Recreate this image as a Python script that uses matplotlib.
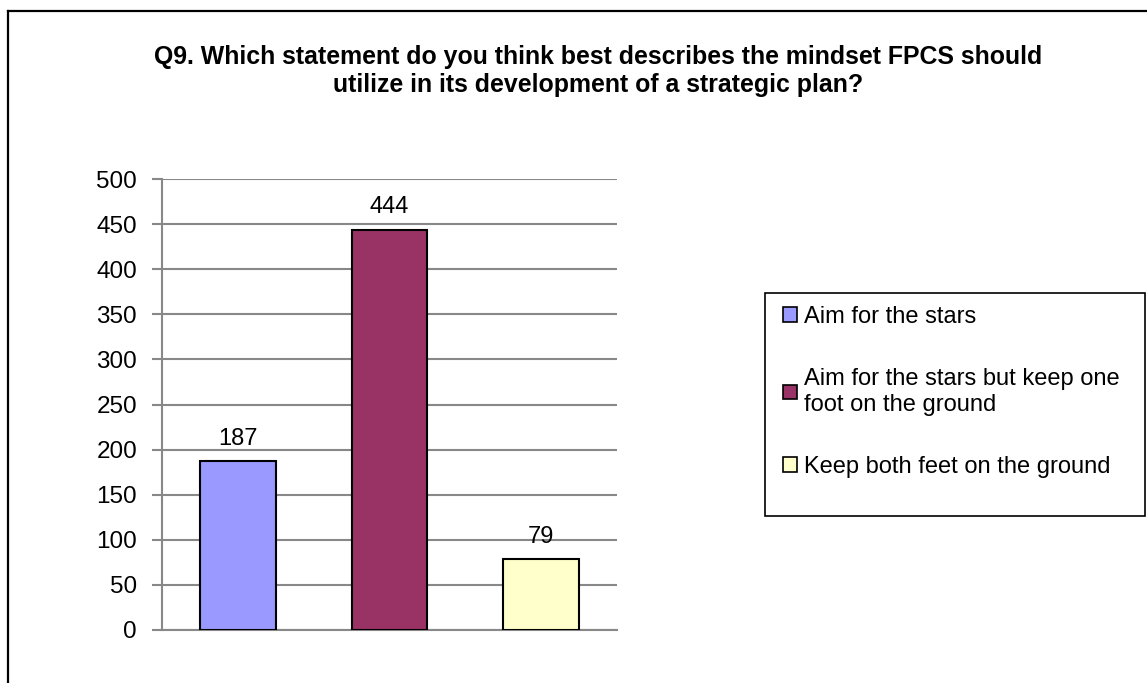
import matplotlib.pyplot as plt
from matplotlib.lines import Line2D
from matplotlib.patches import Rectangle

# chart data
categories = ['Aim for the stars',
              'Aim for the stars but keep one\nfoot on the ground',
              'Keep both feet on the ground']
counts = [187, 444, 79]
colors = ['#9999FF', '#993366', '#FFFFCC']
yticks = [0, 50, 100, 150, 200, 250, 300, 350, 400, 450, 500]
title = ('Q9. Which statement do you think best describes the mindset FPCS should\n'
         'utilize in its development of a strategic plan?')

plt.rcParams['font.family'] = ['Liberation Sans', 'DejaVu Sans']

W, H = 1147, 683
fig = plt.figure(figsize=(W / 100, H / 100), dpi=100)

# outer chart frame (runs off the right and bottom edges)
fig.add_artist(Line2D([8 / W, 8 / W], [0, 1 - 11 / H], color='black', lw=1.6,
                      transform=fig.transFigure))
fig.add_artist(Line2D([8 / W, 1], [1 - 11 / H, 1 - 11 / H], color='black', lw=1.6,
                      transform=fig.transFigure))

ax = fig.add_axes([162 / W, 1 - 630 / H, 455 / W, 451 / H])
x = list(range(len(counts)))
bars = ax.bar(x, counts, width=0.5, color=colors, edgecolor='black', linewidth=1.5,
              label=categories, zorder=3)

for xi, v in zip(x, counts):
    ax.annotate(str(v), (xi, v), xytext=(0, 8), textcoords='offset points',
                ha='center', va='bottom', fontsize=17)

ax.set_xlim(-0.5, 2.5)
ax.set_ylim(0, 500)
ax.set_yticks(yticks)
ax.set_xticks([])
ax.grid(axis='y', color='#888888', lw=1.5, zorder=0)
ax.tick_params(axis='y', length=7, width=1.5, color='#888888', labelsize=17.5, pad=11)
for s in ['top', 'right']:
    ax.spines[s].set_visible(False)
ax.spines['left'].set_color('#888888')
ax.spines['left'].set_linewidth(1.5)
ax.spines['bottom'].set_color('#888888')
ax.spines['bottom'].set_linewidth(1.5)

fig.text(598 / W, 1 - 71 / H, title, ha='center', va='center', fontsize=17.9,
         fontweight='bold', linespacing=1.25)

# legend box drawn separately so it can be taller than the entries
fig.add_artist(Rectangle((765 / W, 1 - 516 / H), 380 / W, 223 / H, fill=False,
                         edgecolor='black', lw=1.2, transform=fig.transFigure))
leg = fig.legend(handles=bars, labels=categories, loc='upper left',
                 bbox_to_anchor=(770 / W, 1 - 293 / H), fontsize=17,
                 frameon=False,
                 handlelength=0.6, handleheight=0.6, handletextpad=0.3,
                 labelspacing=1.7, borderpad=0.55, borderaxespad=0)
for h in leg.legend_handles:
    h.set_linewidth(1.2)

fig.savefig('out.png', dpi=100)
